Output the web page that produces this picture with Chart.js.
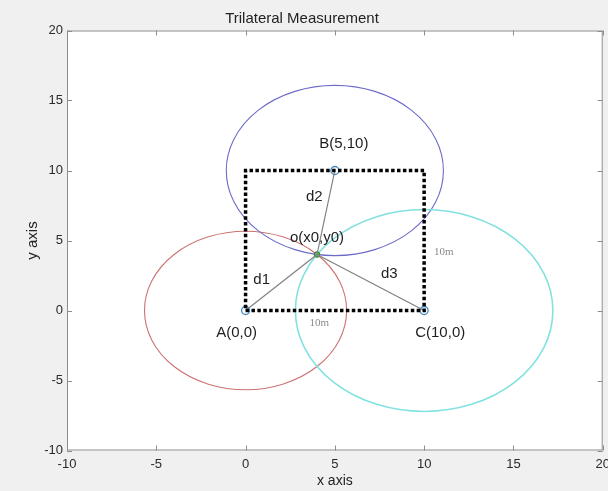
<!DOCTYPE html>
<html>
<head>
<meta charset="utf-8">
<script src="https://cdn.jsdelivr.net/npm/chart.js@4.4.1/dist/chart.umd.min.js"></script>
<style>
  html, body { margin: 0; padding: 0; background: #f0f0f0; overflow: hidden; }
  #wrap { width: 608px; height: 491px; }
</style>
</head>
<body>
<div id="wrap"><canvas id="grafico"></canvas></div>
<script>
// Datos del grafico
const anchorNames = ['A', 'B', 'C'];
const anchorX = [0, 5, 10];
const anchorY = [0, 10, 0];
const radios = [5.66, 6.08, 7.21];
const estX = 4;
const estY = 4;
const rectX = [0, 10, 10, 0, 0];
const rectY = [0, 0, 10, 10, 0];
const xTicks = [-10, -5, 0, 5, 10, 15, 20];
const yTicks = [-10, -5, 0, 5, 10, 15, 20];

// Textos sobre el grafico (en coordenadas de datos)
const etiquetas = ['B(5,10)', 'A(0,0)', 'C(10,0)', 'o(x0,y0)', 'd1', 'd2', 'd3'];
const etiquetasX = [5.5, -0.5, 10.9, 4.0, 0.9, 3.85, 8.05];
const etiquetasY = [11.9, -1.6, -1.6, 5.2, 2.2, 8.1, 2.65];
const notas = ['10m', '10m'];
const notasX = [4.13, 11.1];
const notasY = [-0.93, 4.15];

const coloresCirculo = ['#cc7272', '#6c6cc8', '#82e2e0'];
const anchosCirculo = [1.1, 1.1, 1.6];

const puntos = (xs, ys) => xs.map((x, i) => ({ x: x, y: ys[i] }));

const fondo = {
    id: 'fondo',
    beforeDraw(chart) {
        const { ctx, chartArea: a } = chart;
        ctx.save();
        ctx.fillStyle = '#f0f0f0';
        ctx.fillRect(0, 0, chart.width, chart.height);
        ctx.fillStyle = '#ffffff';
        ctx.fillRect(a.left, a.top, a.right - a.left, a.bottom - a.top);
        ctx.restore();
    }
};

const circulos = {
    id: 'circulos',
    beforeDatasetsDraw(chart) {
        const { ctx, chartArea: a, scales: { x, y } } = chart;
        ctx.save();
        ctx.beginPath();
        ctx.rect(a.left, a.top, a.right - a.left, a.bottom - a.top);
        ctx.clip();
        anchorX.forEach((cx, i) => {
            const px = x.getPixelForValue(cx);
            const py = y.getPixelForValue(anchorY[i]);
            const rx = Math.abs(x.getPixelForValue(cx + radios[i]) - px);
            const ry = Math.abs(y.getPixelForValue(anchorY[i] + radios[i]) - py);
            ctx.beginPath();
            ctx.ellipse(px, py, rx, ry, 0, 0, Math.PI * 2);
            ctx.strokeStyle = coloresCirculo[i];
            ctx.lineWidth = anchosCirculo[i];
            ctx.stroke();
        });
        ctx.restore();
    }
};

const marco = {
    id: 'marco',
    afterDraw(chart) {
        const { ctx, chartArea: a, scales: { x, y } } = chart;
        ctx.save();
        ctx.strokeStyle = '#8c8c8c';
        ctx.lineWidth = 1;
        ctx.strokeRect(a.left + 0.5, a.top + 0.5, a.right - a.left - 1, a.bottom - a.top - 1);
        ctx.beginPath();
        xTicks.forEach(t => {
            const px = Math.round(x.getPixelForValue(t)) + 0.5;
            ctx.moveTo(px, a.bottom); ctx.lineTo(px, a.bottom - 5);
            ctx.moveTo(px, a.top); ctx.lineTo(px, a.top + 5);
        });
        yTicks.forEach(t => {
            const py = Math.round(y.getPixelForValue(t)) + 0.5;
            ctx.moveTo(a.left, py); ctx.lineTo(a.left + 5, py);
            ctx.moveTo(a.right, py); ctx.lineTo(a.right - 5, py);
        });
        ctx.stroke();

        ctx.textAlign = 'center';
        ctx.textBaseline = 'middle';
        ctx.fillStyle = '#1e1e1e';
        ctx.font = '15px "Liberation Sans", Arial, sans-serif';
        etiquetas.forEach((t, i) => {
            ctx.fillText(t, x.getPixelForValue(etiquetasX[i]), y.getPixelForValue(etiquetasY[i]));
        });
        ctx.fillStyle = '#8a8a8a';
        ctx.font = '11px "Liberation Serif", "DejaVu Serif", serif';
        notas.forEach((t, i) => {
            ctx.fillText(t, x.getPixelForValue(notasX[i]), y.getPixelForValue(notasY[i]));
        });
        ctx.restore();
    }
};

const sinRelleno = function (scale) {
    scale.paddingLeft = 0;
    scale.paddingRight = 0;
    scale.paddingTop = 0;
    scale.paddingBottom = 0;
};

const lineaA = (i) => ({
    label: 'd' + (i + 1),
    data: [{ x: estX, y: estY }, { x: anchorX[i], y: anchorY[i] }],
    showLine: true,
    borderColor: '#808080',
    borderWidth: 1.2,
    pointRadius: 0
});

const ctx = document.getElementById('grafico').getContext('2d');
new Chart(ctx, {
    type: 'scatter',
    data: {
        datasets: [
            {
                label: 'cuadro',
                data: puntos(rectX, rectY),
                showLine: true,
                borderColor: '#000000',
                borderWidth: 3.5,
                borderDash: [3.5, 2.4],
                borderCapStyle: 'butt',
                pointRadius: 0
            },
            lineaA(0), lineaA(1), lineaA(2),
            {
                label: 'anclas',
                data: puntos(anchorX, anchorY),
                pointStyle: 'circle',
                pointRadius: 4,
                borderWidth: 1.3,
                borderColor: '#3f89c4',
                backgroundColor: 'rgba(255,255,255,0)'
            },
            {
                label: 'estimado',
                data: [{ x: estX, y: estY }],
                pointRadius: 2.8,
                borderWidth: 1,
                borderColor: '#2f7a2f',
                backgroundColor: '#5cb85c'
            }
        ]
    },
    options: {
        responsive: true,
        maintainAspectRatio: false,
        animation: false,
        layout: { padding: { left: 0, right: 4, top: 0, bottom: 0 } },
        plugins: {
            legend: { display: false },
            tooltip: { enabled: false },
            title: {
                display: true,
                text: 'Trilateral Measurement',
                color: '#222222',
                font: { family: '"Liberation Sans", Arial, sans-serif', size: 15, weight: 'normal' },
                padding: { top: 10, bottom: 2.5 }
            }
        },
        scales: {
            x: {
                type: 'linear',
                min: -10,
                max: 20,
                afterBuildTicks: (s) => { s.ticks = xTicks.map(v => ({ value: v })); },
                afterFit: (s) => { sinRelleno(s); s.height = 40.5; },
                ticks: {
                    color: '#2a2a2a',
                    padding: 6,
                    maxRotation: 0,
                    font: { family: '"Liberation Sans", Arial, sans-serif', size: 13 }
                },
                grid: { drawOnChartArea: false, drawTicks: false },
                border: { display: false },
                title: {
                    display: true,
                    text: 'x axis',
                    color: '#222222',
                    font: { family: '"Liberation Sans", Arial, sans-serif', size: 14 },
                    padding: { top: 0, bottom: 1 }
                }
            },
            y: {
                type: 'linear',
                min: -10,
                max: 20,
                afterBuildTicks: (s) => { s.ticks = yTicks.map(v => ({ value: v })); },
                afterFit: (s) => { sinRelleno(s); s.width = 67; },
                ticks: {
                    color: '#2a2a2a',
                    padding: 4,
                    font: { family: '"Liberation Sans", Arial, sans-serif', size: 13 }
                },
                grid: { drawOnChartArea: false, drawTicks: false },
                border: { display: false },
                title: {
                    display: true,
                    text: 'y axis',
                    color: '#222222',
                    font: { family: '"Liberation Sans", Arial, sans-serif', size: 15 },
                    padding: { top: 24, bottom: 0 }
                }
            }
        }
    },
    plugins: [fondo, circulos, marco]
});
</script>
</body>
</html>
